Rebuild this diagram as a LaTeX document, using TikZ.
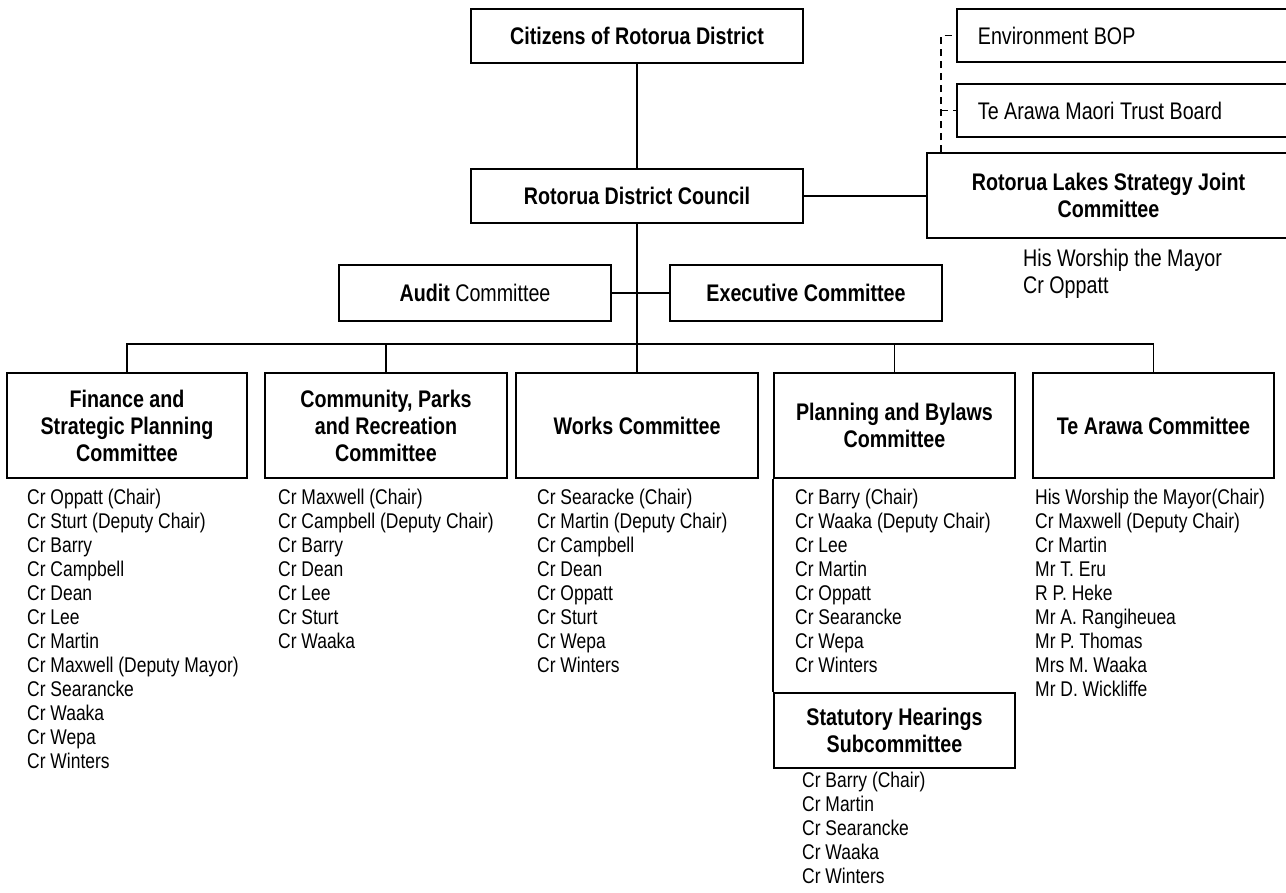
\documentclass[tikz,border=0pt]{standalone}
\usepackage{fontspec}
\setmainfont{Liberation Sans}[FakeStretch=0.82]
\begin{document}
\begin{tikzpicture}[x=1pt,y=-1pt,
  box/.style={draw, line width=1.8pt, rectangle, inner sep=0pt, align=center,
    font=\fontsize{24}{27}\selectfont\bfseries},
  sidebox/.style={draw, line width=1.8pt, rectangle, anchor=west, inner xsep=21pt, inner ysep=0pt,
    minimum height=53pt, font=\fontsize{24}{27}\selectfont},
  members/.style={anchor=north west, inner sep=0pt, align=left,
    font=\fontsize{21.3}{24}\selectfont},
  bigmembers/.style={anchor=north west, inner sep=0pt, align=left,
    font=\fontsize{24}{27}\selectfont},
  conn/.style={line width=1.8pt},
  dashconn/.style={line width=1.6pt, dash pattern=on 7pt off 5pt}]
\useasboundingbox (0,0) rectangle (1286,893);

% top boxes
\node[box, minimum width=332pt, minimum height=54pt] (cit) at (637,36) {Citizens of Rotorua District};
\node[box, minimum width=332pt, minimum height=54pt] (rdc) at (637,196) {Rotorua District Council};
\node[box, minimum width=363pt, minimum height=85pt] (rls) at (1108.5,195.5) {Rotorua Lakes Strategy Joint\\Committee};
\node[sidebox] (env) at (956,35.5) {\makebox[320pt][l]{Environment BOP}};
\node[sidebox] (tmt) at (956,110.5) {\makebox[320pt][l]{Te Arawa Maori Trust Board}};
\node[bigmembers] (rlsm) at (1023,247) {\strut His Worship the Mayor\\Cr Oppatt};

% middle boxes
\node[box, minimum width=272pt, minimum height=56pt] (aud) at (475,293) {Audit \mdseries Committee};
\node[box, minimum width=272pt, minimum height=56pt] (exe) at (806,293) {Executive Committee};

% committees
\node[box, minimum width=240pt, minimum height=105pt] (fin) at (127,425.5) {Finance and\\Strategic Planning\\Committee};
\node[box, minimum width=242pt, minimum height=105pt] (com) at (386,425.5) {Community, Parks\\and Recreation\\Committee};
\node[box, minimum width=242pt, minimum height=105pt] (wor) at (637,425.5) {Works Committee};
\node[box, minimum width=241pt, minimum height=105pt] (pla) at (894.5,425.5) {Planning and Bylaws\\Committee};
\node[box, minimum width=241pt, minimum height=105pt] (tea) at (1153.5,425.5) {Te Arawa Committee};
\node[box, minimum width=241pt, minimum height=75pt] (sta) at (894.5,730.5) {Statutory Hearings\\Subcommittee};

% member lists
\node[members] (finm) at (27,487) {\strut Cr Oppatt (Chair)\\Cr Sturt (Deputy Chair)\\Cr Barry\\Cr Campbell\\Cr Dean\\Cr Lee\\Cr Martin\\Cr Maxwell (Deputy Mayor)\\Cr Searancke\\Cr Waaka\\Cr Wepa\\Cr Winters};
\node[members] (comm) at (278,487) {\strut Cr Maxwell (Chair)\\Cr Campbell (Deputy Chair)\\Cr Barry\\Cr Dean\\Cr Lee\\Cr Sturt\\Cr Waaka};
\node[members] (worm) at (537,487) {\strut Cr Searacke (Chair)\\Cr Martin (Deputy Chair)\\Cr Campbell\\Cr Dean\\Cr Oppatt\\Cr Sturt\\Cr Wepa\\Cr Winters};
\node[members] (plam) at (795,487) {\strut Cr Barry (Chair)\\Cr Waaka (Deputy Chair)\\Cr Lee\\Cr Martin\\Cr Oppatt\\Cr Searancke\\Cr Wepa\\Cr Winters};
\node[members] (team) at (1035,487) {\strut His Worship the Mayor(Chair)\\Cr Maxwell (Deputy Chair)\\Cr Martin\\Mr T. Eru\\R P. Heke\\Mr A. Rangiheuea\\Mr P. Thomas\\Mrs M. Waaka\\Mr D. Wickliffe};
\node[members] (stam) at (802,770) {\strut Cr Barry (Chair)\\Cr Martin\\Cr Searancke\\Cr Waaka\\Cr Winters};

% connectors
\coordinate (bus) at (637,344);
\coordinate (dj) at ([xshift=15pt]rls.north west);
\draw[conn] (cit) -- (rdc);
\draw[conn] (rdc.east) -- (rdc.east -| rls.west);
\draw[conn] (rdc.south) -- (wor.north);
\draw[conn] (aud.east) -- (exe.west);
\draw[conn] (fin.north) -- (fin.north |- bus) -- (tea.north |- bus) -- (tea.north);
\draw[conn] (com.north) -- (com.north |- bus);
\draw[conn] (pla.north) -- (pla.north |- bus);
\draw[conn] (pla.south west) -- (sta.north west);
\draw[dashconn] (dj) |- (env.west);
\draw[dashconn] (dj |- tmt.west) -- (tmt.west);
\end{tikzpicture}
\end{document}
